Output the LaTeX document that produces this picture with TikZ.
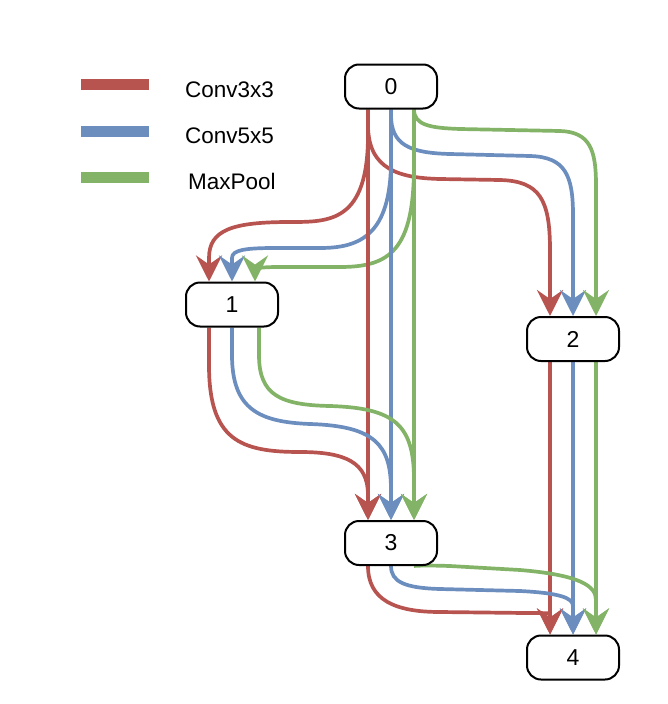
\documentclass[tikz,border=0pt]{standalone}
\usepackage{fontspec}
\setmainfont{Liberation Sans}
\usetikzlibrary{arrows.meta,backgrounds}
\definecolor{cred}{HTML}{B85450}
\definecolor{cblue}{HTML}{6C8EBF}
\definecolor{cgreen}{HTML}{82B366}
\tikzset{
  box/.style={draw=black, line width=2pt, rounded corners=14pt, fill=white,
    minimum width=92pt, minimum height=44pt, inner sep=0pt,
    font=\fontsize{23}{26}\selectfont},
  edge/.style={line width=3.7pt, -{Stealth[length=26pt,width=26pt,inset=9pt]}},
  redge/.style={edge, draw=cred},
  bedge/.style={edge, draw=cblue},
  gedge/.style={edge, draw=cgreen},
  leg/.style={line width=11pt},
  legtext/.style={anchor=west, inner sep=0pt, font=\fontsize{22.5}{26}\selectfont}
}
\begin{document}
\begin{tikzpicture}[x=1pt,y=-1pt]
\useasboundingbox (0,0) rectangle (668,704);

% legend
\draw[leg, cred]   (81,84.5) coordinate (l1a) -- (149,84.5) coordinate (l1b);
\draw[leg, cblue]  (81,131) coordinate (l2a) -- (149,131) coordinate (l2b);
\draw[leg, cgreen] (81,177) coordinate (l3a) -- (149,177) coordinate (l3b);
\node[legtext] (t1) at (185,89.5) {Conv3x3};
\node[legtext] (t2) at (185,136) {Conv5x5};
\node[legtext] (t3) at (188,181.5) {MaxPool};

% nodes
\node[box] (n0) at (391,86.5) {0};
\node[box] (n1) at (232,304.5) {1};
\node[box] (n2) at (573,339) {2};
\node[box] (n3) at (391,543) {3};
\node[box] (n4) at (573,657.5) {4};

\begin{scope}[on background layer]
% 0 -> 1
\draw[redge] ([xshift=-23pt]n0.south) -- (368,135)
  .. controls (368,222) and (330,222) .. (290,222)
  .. controls (232,222) and (209,230) .. (209,258) -- ([xshift=-23pt]n1.north);
\draw[bedge] (n0.south) -- (391,160)
  .. controls (391,235) and (360,248) .. (320,248) -- (275,248)
  .. controls (245,248) and (232,250) .. (232,258) -- (n1.north);
\draw[gedge] ([xshift=23pt]n0.south) -- (414,165)
  .. controls (414,250) and (390,267) .. (340,267) -- (280,267)
  .. controls (262,267) and (255,268) .. (255,270) -- ([xshift=23pt]n1.north);
% 0 -> 2
\draw[redge] ([xshift=-23pt]n0.south) -- (368,125)
  .. controls (368,170) and (400,178) .. (440,179) -- (500,180)
  .. controls (540,181) and (550,200) .. (550,250) -- ([xshift=-23pt]n2.north);
\draw[bedge] (n0.south) -- (391,115)
  .. controls (391,145) and (410,153) .. (450,154) -- (530,156)
  .. controls (565,157) and (573,175) .. (573,215) -- (n2.north);
\draw[gedge] ([xshift=23pt]n0.south)
  .. controls (414,125) and (430,128) .. (460,129) -- (560,131)
  .. controls (590,132) and (596,150) .. (596,185) -- ([xshift=23pt]n2.north);
% 0 -> 3
\draw[redge] ([xshift=-23pt]n0.south) -- ([xshift=-23pt]n3.north);
\draw[bedge] (n0.south) -- (n3.north);
\draw[gedge] ([xshift=23pt]n0.south) -- ([xshift=23pt]n3.north);
% 1 -> 3
\draw[redge] ([xshift=-23pt]n1.south) -- (209,365)
  .. controls (209,440) and (240,452) .. (300,452)
  .. controls (345,452) and (368,462) .. (368,495) -- ([xshift=-23pt]n3.north);
\draw[bedge] (n1.south) -- (232,355)
  .. controls (232,410) and (260,422) .. (310,424)
  .. controls (375,426) and (391,445) .. (391,490) -- (n3.north);
\draw[gedge] ([xshift=27pt]n1.south) -- (259,355)
  .. controls (259,395) and (280,405) .. (330,406)
  .. controls (395,408) and (414,425) .. (414,480) -- ([xshift=23pt]n3.north);
% 2 -> 4
\draw[redge] ([xshift=-23pt]n2.south) -- ([xshift=-23pt]n4.north);
\draw[bedge] (n2.south) -- (n4.north);
\draw[gedge] ([xshift=23pt]n2.south) -- ([xshift=23pt]n4.north);
% 3 -> 4
\draw[redge] ([xshift=-23pt]n3.south)
  .. controls (368,600) and (395,612) .. (440,612) -- (525,613)
  .. controls (543,613) and (550,613) .. (550,614) -- ([xshift=-23pt]n4.north);
\draw[bedge] (n3.south)
  .. controls (391,582) and (405,588) .. (440,589) -- (520,591)
  .. controls (560,593) and (573,598) .. (573,606) -- (n4.north);
\draw[gedge] ([xshift=23pt]n3.south)
  .. controls (414,566) and (420,565) .. (450,566) -- (520,570)
  .. controls (580,575) and (596,586) .. (596,600) -- ([xshift=23pt]n4.north);
\end{scope}
\end{tikzpicture}
\end{document}
